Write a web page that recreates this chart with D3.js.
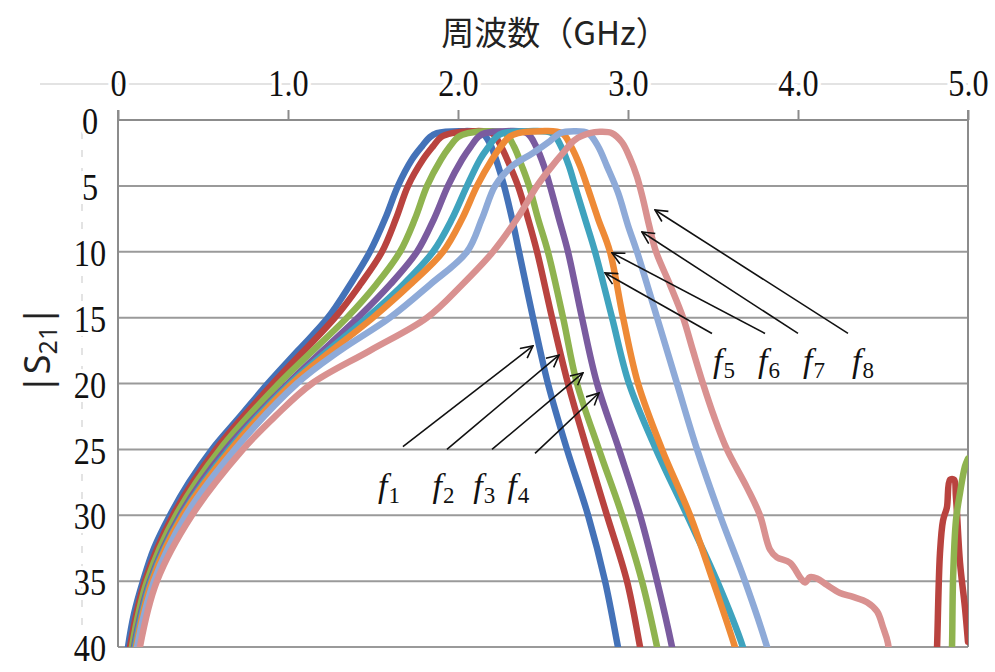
<!DOCTYPE html>
<html>
<head>
<meta charset="utf-8">
<script src="https://cdn.jsdelivr.net/npm/d3@7"></script>
<style>
  body { margin: 0; background: #fff; }
</style>
</head>
<body>
<div id="chart"></div>
<script>
/********************************************************/
// axis ticks
const xTicks = [0, 1, 2, 3, 4, 5];
const xTickLabels = ["0", "1.0", "2.0", "3.0", "4.0", "5.0"];
const yTicks = [0, 5, 10, 15, 20, 25, 30, 35, 40];
/********************************************************/
// |S21| curves, [frequency GHz, |S21|]
const f1 = [[0.040,42],[0.059,40],[0.094,37.5],[0.147,35],[0.212,32.5],[0.306,30],[0.418,27.5],[0.553,25],[0.718,22.5],[0.882,20],[1.059,17.5],[1.235,15],[1.365,12.5],[1.482,10],[1.571,7.5],[1.647,5],[1.729,3],[1.788,2],[1.835,1.3],[1.876,1.0],[2.012,0.85],[2.141,1.0],[2.188,1.8],[2.229,3.2],[2.271,5],[2.318,7.5],[2.359,10],[2.441,15],[2.529,20],[2.641,25],[2.765,30],[2.865,35],[2.941,40],[2.971,42]];
const f2 = [[0.052,42],[0.071,40],[0.159,35],[0.324,30],[0.576,25],[0.912,20],[1.276,15],[1.424,12.5],[1.553,10],[1.635,7.5],[1.706,5],[1.794,3],[1.853,2],[1.900,1.3],[1.965,1.0],[2.082,0.85],[2.200,1.0],[2.253,2],[2.306,3.5],[2.353,5],[2.412,7.5],[2.465,10],[2.553,15],[2.647,20],[2.759,25],[2.876,30],[2.994,35],[3.071,40],[3.100,42]];
const f2High = [[4.812,42],[4.818,40],[4.835,32.9],[4.853,30.4],[4.876,29.4],[4.894,27.3],[4.918,27.3],[4.929,28.6],[4.953,33.6],[4.982,37.0],[5.0,39.6]];
const f3 = [[0.063,42],[0.082,40],[0.171,35],[0.341,30],[0.600,25],[0.947,20],[1.347,15],[1.518,12.5],[1.659,10],[1.747,7.5],[1.818,5],[1.900,3],[1.953,2],[2.000,1.3],[2.059,1.0],[2.171,0.85],[2.276,1.0],[2.329,2],[2.376,3.5],[2.418,5],[2.471,7.5],[2.529,10],[2.618,15],[2.700,20],[2.829,25],[2.965,30],[3.082,35],[3.171,40],[3.200,42]];
const f3High = [[4.900,42],[4.906,40],[4.912,34.9],[4.929,30.4],[4.953,28.3],[4.982,26.3],[5.0,25.7]];
const f4 = [[0.075,42],[0.094,40],[0.188,35],[0.365,30],[0.635,25],[1.000,20],[1.412,15],[1.600,12.5],[1.759,10],[1.859,7.5],[1.941,5],[2.024,3],[2.076,2],[2.118,1.3],[2.159,1.0],[2.282,0.85],[2.406,1.0],[2.459,2],[2.506,3.5],[2.541,5],[2.594,7.5],[2.647,10],[2.729,15],[2.818,20],[2.947,25],[3.071,30],[3.171,35],[3.259,40],[3.288,42]];
const f5 = [[0.080,42],[0.100,40],[0.194,35],[0.376,30],[0.653,25],[1.012,20],[1.465,15],[1.676,12.5],[1.853,10],[1.965,7.5],[2.053,5],[2.129,3],[2.182,2],[2.224,1.3],[2.265,1.0],[2.412,0.85],[2.553,1.0],[2.606,2],[2.653,3.5],[2.688,5],[2.747,7.5],[2.806,10],[2.906,15],[3.006,20],[3.165,25],[3.347,30],[3.524,35],[3.676,40],[3.718,42]];
const f6 = [[0.086,42],[0.106,40],[0.200,35],[0.382,30],[0.665,25],[1.024,20],[1.500,15],[1.718,12.5],[1.912,10],[2.024,7.5],[2.112,5],[2.200,3],[2.253,2],[2.300,1.3],[2.353,1.0],[2.482,0.85],[2.612,1.0],[2.665,2],[2.718,3.5],[2.759,5],[2.824,7.5],[2.894,10],[2.971,15],[3.059,20],[3.200,25],[3.365,30],[3.500,35],[3.629,40],[3.671,42]];
const f7 = [[0.092,42],[0.112,40],[0.212,35],[0.400,30],[0.688,25],[1.053,20],[1.306,17.5],[1.600,15],[1.835,12.5],[2.053,10],[2.141,7.5],[2.218,5],[2.318,3.5],[2.441,2.5],[2.541,1.6],[2.600,1.0],[2.682,0.85],[2.765,1.0],[2.824,2],[2.876,3.5],[2.941,5.5],[3.000,8],[3.053,10],[3.171,15],[3.288,20],[3.406,25],[3.541,30],[3.688,35],[3.818,40],[3.859,42]];
const f8 = [[0.110,42],[0.129,40],[0.229,35],[0.435,30],[0.735,25],[0.924,22.5],[1.141,20],[1.482,17.5],[1.818,15],[2.024,12.5],[2.206,10],[2.347,7.5],[2.465,5],[2.553,3.5],[2.618,2.5],[2.688,1.5],[2.776,1.0],[2.835,0.9],[2.906,1.0],[2.965,1.7],[3.012,2.9],[3.053,4.3],[3.088,6],[3.124,8],[3.165,10],[3.247,12.5],[3.324,15],[3.382,17.5],[3.441,20],[3.506,22.5],[3.582,25],[3.700,27.9],[3.776,30],[3.835,32.6],[3.876,33.2],[3.953,33.6],[4.012,34.7],[4.041,35.1],[4.071,34.7],[4.112,34.8],[4.171,35.3],[4.247,35.9],[4.324,36.2],[4.406,36.6],[4.465,37.3],[4.500,38.5],[4.529,39.7],[4.541,42]];
/********************************************************/
const seriesData = [f1, f2, f2High, f3, f3High, f4, f5, f6, f7, f8];
const seriesColors = ["#4472b8", "#b9433f", "#b9433f", "#8fb34f", "#8fb34f", "#7a5b9f", "#3fa3be", "#ee8a36", "#8eaad8", "#d99190"];
/********************************************************/
// curve labels and arrows, [frequency, |S21|]
const labelNames = ["1", "2", "3", "4", "5", "6", "7", "8"];
const labelPos = [[1.53,28.6],[1.85,28.6],[2.09,28.6],[2.29,28.6],[3.50,19.1],[3.765,19.1],[4.03,19.1],[4.318,19.1]];
const arrowTail = [[1.676,24.8],[1.935,25.0],[2.2,25.0],[2.453,25.3],[3.494,16.2],[3.806,16.2],[4.0,16.2],[4.294,16.2]];
const arrowHead = [[2.441,17.15],[2.594,17.84],[2.735,19.2],[2.829,20.72],[2.865,11.61],[2.906,10.09],[3.082,8.5],[3.159,6.83]];
/********************************************************/
const svgWidth = 995;
const svgHeight = 672;
const chartMargin = { top: 120, right: 27, bottom: 25, left: 118 };
const chartWidth = svgWidth - chartMargin.left - chartMargin.right;
const chartHeight = svgHeight - chartMargin.top - chartMargin.bottom;

const svg = d3.select("#chart").append("svg").attr("width", svgWidth).attr("height", svgHeight);
const chartGroup = svg.append("g").attr("transform", `translate(${chartMargin.left}, ${chartMargin.top})`);

const xScale = d3.scaleLinear().domain([0, 5]).range([0, chartWidth]);
const yScale = d3.scaleLinear().domain([0, 40]).range([0, chartHeight]);

// faint guide lines behind tick labels
chartGroup.append("line")
  .attr("x1", -78).attr("x2", chartWidth)
  .attr("y1", -36).attr("y2", -36)
  .attr("stroke", "#dadada").attr("stroke-width", 1.5);
chartGroup.append("line")
  .attr("x1", -36).attr("x2", -36)
  .attr("y1", 12).attr("y2", chartHeight + 5)
  .attr("stroke", "#dadada").attr("stroke-width", 1.5)
  .attr("stroke-dasharray", "7,11");

// gridlines
chartGroup.append("g")
  .selectAll("line")
  .data(yTicks.filter((d) => d > 0))
  .enter()
  .append("line")
  .attr("x1", 0).attr("x2", chartWidth)
  .attr("y1", (d) => yScale(d)).attr("y2", (d) => yScale(d))
  .attr("stroke", "#9a9a9a").attr("stroke-width", 2);

// top axis
const topAxis = d3.axisTop(xScale)
  .tickValues(xTicks)
  .tickSize(10)
  .tickPadding(14)
  .tickFormat((d, i) => xTickLabels[i]);
const xAxisG = chartGroup.append("g").call(topAxis);
xAxisG.select(".domain").remove();
xAxisG.selectAll("line").attr("stroke", "#8c8c8c").attr("stroke-width", 2);
xAxisG.selectAll("text")
  .attr("font-family", "'Liberation Serif', serif")
  .attr("font-size", "38px")
  .attr("fill", "#111")
  .attr("stroke", "#fff").attr("stroke-width", 8).attr("paint-order", "stroke")
  .attr("transform", "scale(0.85,1)");
chartGroup.append("line")
  .attr("x1", 0).attr("x2", chartWidth)
  .attr("y1", 0).attr("y2", 0)
  .attr("stroke", "#8c8c8c").attr("stroke-width", 2);

// left axis
const leftAxis = d3.axisLeft(yScale).tickValues(yTicks).tickSize(0).tickPadding(0);
const yAxisG = chartGroup.append("g").call(leftAxis);
yAxisG.select(".domain").remove();
yAxisG.selectAll("text")
  .attr("x", -28 / 0.85)
  .attr("text-anchor", "middle")
  .attr("dy", "0.36em")
  .attr("font-family", "'Liberation Serif', serif")
  .attr("font-size", "38px")
  .attr("fill", "#111")
  .attr("stroke", "#fff").attr("stroke-width", 8).attr("paint-order", "stroke")
  .attr("transform", "scale(0.85,1)");
chartGroup.append("line")
  .attr("x1", 0).attr("x2", 0)
  .attr("y1", -10).attr("y2", chartHeight)
  .attr("stroke", "#8c8c8c").attr("stroke-width", 2);
chartGroup.append("line")
  .attr("x1", chartWidth).attr("x2", chartWidth)
  .attr("y1", -10).attr("y2", chartHeight)
  .attr("stroke", "#8c8c8c").attr("stroke-width", 2);

// curves
svg.append("defs").append("clipPath").attr("id", "plotClip")
  .append("rect").attr("x", -4).attr("y", 0).attr("width", chartWidth + 4).attr("height", chartHeight);

const line = d3.line()
  .x((d) => xScale(d[0]))
  .y((d) => yScale(d[1]))
  .curve(d3.curveCatmullRom.alpha(0.5));

chartGroup.append("g")
  .attr("clip-path", "url(#plotClip)")
  .selectAll("path")
  .data(seriesData)
  .enter()
  .append("path")
  .attr("d", line)
  .attr("fill", "none")
  .attr("stroke", (d, i) => seriesColors[i])
  .attr("stroke-width", 6.5)
  .attr("stroke-linejoin", "round")
  .attr("stroke-linecap", "round");

// arrows
svg.select("defs").append("marker")
  .attr("id", "arrowHead")
  .attr("viewBox", "0 0 14 14")
  .attr("refX", 13).attr("refY", 7)
  .attr("markerWidth", 14).attr("markerHeight", 14)
  .attr("markerUnits", "userSpaceOnUse")
  .attr("orient", "auto")
  .append("path")
  .attr("d", "M1,1 L13,7 L1,13")
  .attr("fill", "none")
  .attr("stroke", "#111")
  .attr("stroke-width", 1.6);

chartGroup.append("g")
  .selectAll("line")
  .data(labelNames)
  .enter()
  .append("line")
  .attr("x1", (d, i) => xScale(arrowTail[i][0]))
  .attr("y1", (d, i) => yScale(arrowTail[i][1]))
  .attr("x2", (d, i) => xScale(arrowHead[i][0]))
  .attr("y2", (d, i) => yScale(arrowHead[i][1]))
  .attr("stroke", "#111")
  .attr("stroke-width", 1.6)
  .attr("marker-end", "url(#arrowHead)");

const labels = chartGroup.append("g")
  .selectAll("text")
  .data(labelNames)
  .enter()
  .append("text")
  .attr("x", (d, i) => xScale(labelPos[i][0]))
  .attr("y", (d, i) => yScale(labelPos[i][1]))
  .attr("font-family", "'Liberation Serif', serif")
  .attr("fill", "#111");
labels.append("tspan").text("f").attr("font-style", "italic").attr("font-size", "34px");
labels.append("tspan").text((d) => d).attr("font-size", "23px").attr("dy", 6).attr("dx", 1);

// titles
svg.append("text")
  .attr("x", 555).attr("y", 45)
  .attr("text-anchor", "middle")
  .attr("font-family", "'Noto Sans CJK JP', sans-serif")
  .attr("font-size", "33px")
  .attr("fill", "#222")
  .text("周波数（GHz）");

const yTitle = svg.append("text")
  .attr("transform", "translate(50, 350) rotate(-90)")
  .attr("text-anchor", "middle")
  .attr("font-family", "'Noto Sans', sans-serif")
  .attr("font-size", "36px")
  .attr("fill", "#222");
yTitle.append("tspan").text("|S");
yTitle.append("tspan").text("21").attr("font-size", "25px").attr("dy", 7);
yTitle.append("tspan").text("|").attr("dy", -7);
</script>
</body>
</html>
